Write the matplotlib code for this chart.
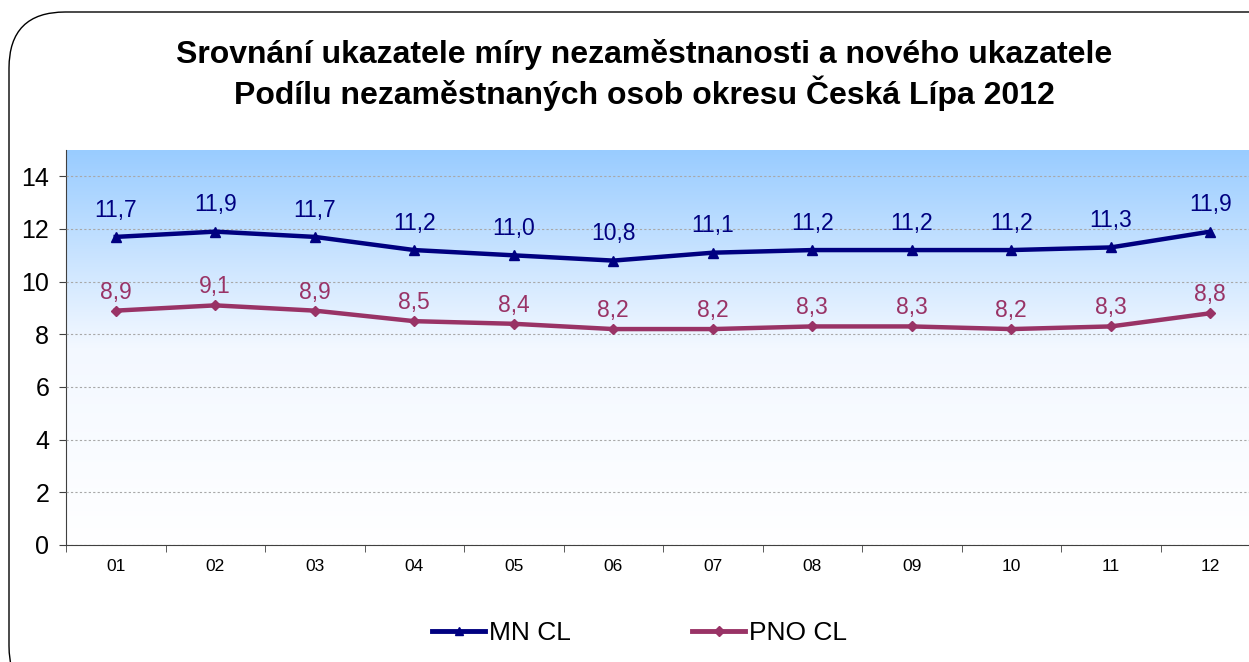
import matplotlib
matplotlib.use("Agg")
import matplotlib.pyplot as plt
import numpy as np
from matplotlib.patches import FancyBboxPatch
from matplotlib.lines import Line2D
from matplotlib.colors import LinearSegmentedColormap

months = ["01", "02", "03", "04", "05", "06", "07", "08", "09", "10", "11", "12"]
mn_cl = [11.7, 11.9, 11.7, 11.2, 11.0, 10.8, 11.1, 11.2, 11.2, 11.2, 11.3, 11.9]
pno_cl = [8.9, 9.1, 8.9, 8.5, 8.4, 8.2, 8.2, 8.3, 8.3, 8.2, 8.3, 8.8]
series_names = ["MN CL", "PNO CL"]
title = "Srovnání ukazatele míry nezaměstnanosti a nového ukazatele\nPodílu nezaměstnaných osob okresu Česká Lípa 2012"

plt.rcParams['font.family'] = ['Liberation Sans', 'DejaVu Sans']

W, H = 1249, 662
fig = plt.figure(figsize=(W / 100, H / 100), dpi=100)

# rounded frame
frame = FancyBboxPatch((9 / W, -40 / H), (W + 60) / W, (H - 12 + 40) / H,
                       boxstyle="round,pad=0,rounding_size=0.045",
                       transform=fig.transFigure, facecolor="white",
                       edgecolor="black", linewidth=1.0, mutation_aspect=W / H,
                       zorder=-10)
fig.patches.append(frame)

fig.text(0.516, 1 - 75 / H, title, ha="center", va="center", fontsize=23,
         fontweight="bold", linespacing=1.2)

left, right, top, bottom = 66, 1260, 150, 545
ax = fig.add_axes([left / W, 1 - bottom / H, (right - left) / W, (bottom - top) / H])
ax.set_xlim(-0.5, 11.5)
ax.set_ylim(0, 15)

# gradient background
grad = np.linspace(0, 1, 256).reshape(-1, 1)
cmap = LinearSegmentedColormap.from_list("bg", ["#FFFFFF", "#F3F8FF", "#99CCFF"])
ax.imshow(grad, extent=(-0.5, 11.5, 0, 15), origin="lower", aspect="auto",
          cmap=cmap, zorder=0)

ax.set_yticks(range(0, 15, 2))
ax.yaxis.grid(True, linestyle=(0, (2, 2)), color="#A8A8A8", linewidth=0.8)
ax.set_axisbelow(False)
for gl in ax.get_ygridlines():
    gl.set_zorder(1)

x = np.arange(len(months))
ax.plot(x, mn_cl, color="#000080", linewidth=3.2, marker="^", markersize=7, zorder=3)
ax.plot(x, pno_cl, color="#993366", linewidth=3.2, marker="D", markersize=5, zorder=3)

for xi, v in zip(x, mn_cl):
    ax.annotate(f"{v:.1f}".replace(".", ","), (xi, v), xytext=(0, 11),
                textcoords="offset points", ha="center", va="bottom",
                fontsize=16.5, color="#000080")
for xi, v in zip(x, pno_cl):
    ax.annotate(f"{v:.1f}".replace(".", ","), (xi, v), xytext=(0, 5),
                textcoords="offset points", ha="center", va="bottom",
                fontsize=16.5, color="#993366")

ax.set_xticks(x)
ax.set_xticklabels(months, fontsize=12.5)
ax.set_xticks(np.arange(-0.5, 12, 1), minor=True)
ax.tick_params(axis="x", which="major", length=0, pad=10)
ax.tick_params(axis="x", which="minor", length=5, direction="out", color="#404040")
ax.tick_params(axis="y", labelsize=18, length=5, direction="out", color="#404040", pad=7)

for s in ["top", "right"]:
    ax.spines[s].set_visible(False)
for s in ["left", "bottom"]:
    ax.spines[s].set_color("#404040")

handles = [Line2D([], [], color="#000080", linewidth=3.5, marker="^", markersize=6),
           Line2D([], [], color="#993366", linewidth=3.5, marker="D", markersize=5)]
fig.legend(handles, series_names, loc="center", bbox_to_anchor=(0.512, 1 - 633 / H),
           ncol=2, frameon=False, fontsize=19, handlelength=2.0, handletextpad=0.15,
           columnspacing=4.6)

fig.savefig("out.png", dpi=100)
